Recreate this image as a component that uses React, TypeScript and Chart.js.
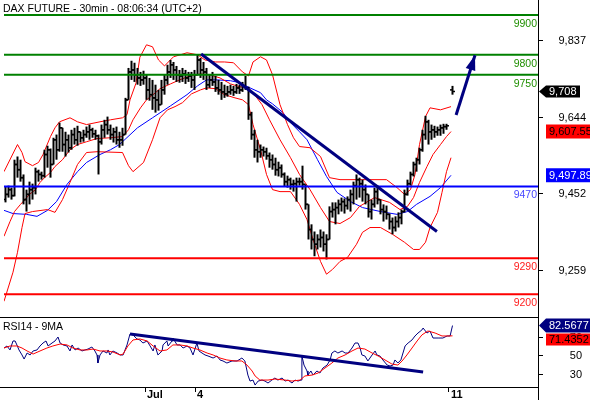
import React, { useEffect, useRef } from 'react';
import { Chart, registerables } from 'chart.js';

Chart.register(...registerables);

const FONT = '"Liberation Sans", Arial, Helvetica, sans-serif';
const NAVY = '#000080';

const chartTitle = 'DAX FUTURE - 30min - 08:06:34 (UTC+2)';
const rsiTitle = 'RSI14 - 9MA';

// 30-min OHLC bars (index 148 = weekend gap)
const opens: (number | null)[] = [
  9437, 9450, 9462, 9447, 9525, 9512, 9492, 9437, 9450, 9462,
  9467, 9507, 9500, 9497, 9550, 9562, 9525, 9587, 9562, 9617,
  9575, 9587, 9567, 9600, 9587, 9607, 9592, 9600, 9607, 9612,
  9602, 9597, 9582, 9612, 9625, 9612, 9600, 9607, 9587, 9587,
  9600, 9687, 9757, 9762, 9750, 9742, 9737, 9742, 9712, 9700,
  9692, 9687, 9675, 9712, 9737, 9757, 9775, 9762, 9750, 9747,
  9752, 9742, 9747, 9737, 9750, 9787, 9762, 9757, 9725, 9737,
  9732, 9717, 9712, 9707, 9702, 9707, 9712, 9707, 9717, 9712,
  9722, 9717, 9650, 9600, 9562, 9557, 9562, 9557, 9547, 9537,
  9525, 9512, 9517, 9500, 9482, 9487, 9475, 9477, 9482, 9482,
  9475, 9425, 9362, 9337, 9325, 9337, 9342, 9325, 9337, 9407,
  9412, 9417, 9425, 9432, 9422, 9437, 9450, 9472, 9487, 9477,
  9462, 9450, 9407, 9425, 9457, 9437, 9412, 9407, 9400, 9382,
  9367, 9382, 9392, 9407, 9450, 9477, 9500, 9525, 9537, 9562,
  9600, 9632, 9607, 9612, 9607, 9612, 9617, 9620, null, 9712,
];
const highs: (number | null)[] = [
  9470, 9472, 9467, 9537, 9545, 9537, 9500, 9462, 9482, 9477,
  9517, 9512, 9507, 9562, 9572, 9565, 9592, 9600, 9630, 9617,
  9607, 9600, 9612, 9617, 9622, 9607, 9612, 9620, 9625, 9617,
  9612, 9600, 9625, 9637, 9645, 9625, 9617, 9620, 9607, 9617,
  9692, 9767, 9785, 9780, 9767, 9757, 9760, 9750, 9742, 9737,
  9725, 9712, 9737, 9750, 9775, 9787, 9782, 9772, 9762, 9767,
  9762, 9757, 9757, 9762, 9800, 9792, 9782, 9767, 9750, 9757,
  9747, 9737, 9732, 9725, 9722, 9725, 9722, 9727, 9725, 9732,
  9747, 9720, 9657, 9612, 9587, 9575, 9570, 9567, 9555, 9550,
  9542, 9532, 9525, 9505, 9497, 9492, 9487, 9492, 9492, 9522,
  9475, 9425, 9375, 9357, 9350, 9362, 9357, 9350, 9420, 9430,
  9430, 9437, 9442, 9440, 9445, 9462, 9482, 9500, 9492, 9487,
  9475, 9450, 9437, 9467, 9472, 9437, 9425, 9422, 9402, 9392,
  9395, 9405, 9412, 9462, 9487, 9507, 9532, 9542, 9567, 9612,
  9647, 9637, 9625, 9622, 9620, 9625, 9627, 9627, null, 9722,
];
const lows: (number | null)[] = [
  9430, 9442, 9437, 9445, 9492, 9482, 9425, 9407, 9425, 9437,
  9450, 9482, 9487, 9492, 9517, 9492, 9525, 9537, 9557, 9557,
  9545, 9555, 9562, 9575, 9572, 9580, 9582, 9592, 9587, 9592,
  9587, 9500, 9575, 9592, 9600, 9587, 9580, 9575, 9567, 9572,
  9600, 9687, 9737, 9732, 9725, 9722, 9725, 9687, 9685, 9662,
  9655, 9660, 9675, 9700, 9725, 9742, 9737, 9732, 9730, 9732,
  9727, 9732, 9717, 9712, 9748, 9742, 9737, 9712, 9717, 9722,
  9707, 9700, 9687, 9692, 9695, 9700, 9697, 9702, 9702, 9707,
  9712, 9637, 9587, 9542, 9530, 9542, 9545, 9537, 9517, 9512,
  9497, 9495, 9492, 9470, 9467, 9462, 9457, 9432, 9472, 9462,
  9412, 9337, 9312, 9295, 9312, 9317, 9307, 9287, 9337, 9392,
  9375, 9400, 9407, 9402, 9412, 9407, 9425, 9437, 9442, 9432,
  9425, 9392, 9387, 9417, 9425, 9400, 9382, 9387, 9362, 9350,
  9357, 9367, 9375, 9405, 9447, 9472, 9495, 9507, 9525, 9557,
  9587, 9575, 9587, 9592, 9597, 9597, 9602, 9612, null, 9700,
];
const closes: (number | null)[] = [
  9450, 9462, 9447, 9525, 9512, 9492, 9437, 9450, 9462, 9467,
  9507, 9500, 9497, 9550, 9562, 9525, 9587, 9562, 9617, 9575,
  9587, 9567, 9600, 9587, 9607, 9592, 9600, 9607, 9612, 9602,
  9597, 9582, 9612, 9625, 9612, 9600, 9607, 9587, 9587, 9600,
  9687, 9757, 9762, 9750, 9742, 9737, 9742, 9712, 9700, 9692,
  9687, 9675, 9712, 9737, 9757, 9775, 9762, 9750, 9747, 9752,
  9742, 9747, 9737, 9750, 9787, 9762, 9757, 9725, 9737, 9732,
  9717, 9712, 9707, 9702, 9707, 9712, 9707, 9717, 9712, 9722,
  9717, 9650, 9600, 9562, 9557, 9562, 9557, 9547, 9537, 9525,
  9512, 9517, 9500, 9482, 9487, 9475, 9477, 9482, 9482, 9475,
  9425, 9362, 9337, 9325, 9337, 9342, 9325, 9337, 9407, 9412,
  9417, 9425, 9432, 9422, 9437, 9450, 9472, 9487, 9477, 9462,
  9450, 9407, 9425, 9457, 9437, 9412, 9407, 9400, 9382, 9367,
  9382, 9392, 9407, 9450, 9477, 9500, 9525, 9537, 9562, 9600,
  9632, 9607, 9612, 9607, 9612, 9617, 9620, 9622, null, 9708,
];

// Bollinger bands and moving average, [bar index, price]
const bbUpper: [number, number][] = [
  [-0.5, 9507], [4, 9575], [5.5, 9555], [6.5, 9532], [9, 9522], [11, 9530], [12.5, 9550], [15, 9595],
  [16.5, 9617], [18, 9632], [21.5, 9642], [24, 9632], [27, 9625], [31.5, 9632], [35, 9637], [39, 9642],
  [40.5, 9650], [41.5, 9687], [43.5, 9729], [44.8, 9794], [47, 9825], [49, 9820], [51, 9787], [53, 9772],
  [56, 9795], [60.5, 9805], [64, 9800], [66.5, 9787], [70, 9782], [73, 9782], [76, 9780], [79, 9757],
  [81, 9747], [82.5, 9782], [85, 9795], [87, 9787], [89, 9750], [91.5, 9675], [94, 9625], [96, 9592],
  [98, 9570], [101.5, 9567], [105, 9545], [108, 9492], [111.5, 9487], [119, 9487], [127, 9487],
  [130.5, 9467], [133, 9450], [135, 9462], [136.5, 9500], [138, 9575], [140, 9645], [141.5, 9667],
  [145, 9662], [148.5, 9670],
];
const bbMiddle: [number, number][] = [
  [-0.5, 9345], [1.5, 9382], [3, 9407], [5, 9425], [6.5, 9437], [8, 9450], [10, 9462], [11.5, 9480],
  [13, 9492], [15, 9505], [16.5, 9520], [19, 9537], [21.5, 9562], [24, 9575], [27, 9582], [30.5, 9590],
  [35, 9592], [39, 9595], [41, 9612], [42.5, 9637], [45, 9667], [47, 9687], [50, 9705], [51.5, 9715],
  [55, 9727], [58, 9737], [61.5, 9747], [65, 9752], [68, 9750], [71.5, 9742], [75, 9727], [78, 9720],
  [81, 9717], [83, 9700], [85.5, 9675], [88, 9637], [91.5, 9587], [95, 9542], [98, 9500], [101.5, 9462],
  [105, 9417], [108, 9382], [111.5, 9377], [115, 9392], [118, 9420], [123, 9442], [128, 9430],
  [131.5, 9412], [134, 9420], [136, 9442], [138, 9480], [140.5, 9520], [142.5, 9550], [145, 9575],
  [147, 9595], [148.5, 9607.55],
];
const bbLower: [number, number][] = [
  [-0.5, 9182], [2.5, 9255], [4, 9305], [5.5, 9367], [6.5, 9402], [9, 9407], [14, 9412], [16.5, 9405],
  [19, 9437], [21.5, 9480], [24, 9525], [27, 9555], [30.5, 9557], [39, 9555], [41, 9522], [42.5, 9507],
  [46, 9530], [49, 9587], [51.5, 9642], [54, 9662], [56.5, 9670], [59, 9680], [62, 9702], [65, 9712],
  [67, 9717], [70, 9715], [73, 9700], [76.5, 9692], [79, 9687], [81, 9675], [82.5, 9625], [85, 9562],
  [87, 9500], [89, 9462], [91.5, 9457], [95, 9457], [98, 9425], [100.5, 9387], [102.5, 9337], [105, 9282],
  [107, 9250], [109, 9262], [111.5, 9282], [114, 9292], [117, 9325], [119, 9355], [121.5, 9367],
  [125, 9367], [129, 9350], [133, 9330], [136, 9312], [138, 9312], [140, 9330], [141.5, 9367],
  [144, 9405], [145.5, 9455], [147, 9507], [148.5, 9542],
];
const movingAvg: [number, number][] = [
  [-0.5, 9410], [2.5, 9402], [7, 9400], [10.5, 9395], [14, 9410], [17, 9432], [20.5, 9475], [24, 9507],
  [27, 9530], [31.5, 9550], [35, 9562], [38, 9575], [44, 9617], [49, 9642], [55, 9672], [60.5, 9700],
  [64, 9722], [67, 9737], [70.5, 9737], [75, 9735], [78, 9730], [81.5, 9717], [85, 9705], [87, 9687],
  [89, 9677], [92.5, 9655], [95, 9630], [98, 9607], [100.5, 9587], [104, 9537], [107, 9495],
  [110.5, 9455], [115, 9432], [119, 9417], [125, 9407], [130.5, 9400], [134, 9407], [137, 9425],
  [141.5, 9445], [145, 9467], [148.5, 9497.89],
];

// RSI14 and its 9MA, [bar index, value]
const rsi14: [number, number][] = [
  [-0.5, 58.3], [0.5, 60.5], [1.5, 56.2], [2.5, 65.9], [3.2, 65.9], [3.8, 61.6], [4.5, 56.2], [5.5, 50.8],
  [6.2, 46.4], [7.2, 52.9], [8.2, 50.8], [9.2, 55.1], [10.5, 56.2], [11.5, 60.5], [12.5, 63.7], [13.5, 65.9],
  [14.2, 60.5], [15.5, 63.7], [16.5, 65.9], [17.5, 70.2], [18.2, 63.7], [19.2, 61.6], [20.5, 60.5],
  [21.5, 55.1], [22.2, 61.6], [23.2, 56.2], [24.2, 58.3], [25.5, 55.1], [26.5, 56.2], [27.5, 57.2],
  [28.8, 59.4], [29.8, 55.1], [30.5, 50.8], [30.8, 42.1], [31.5, 50.8], [32.5, 55.1], [33.8, 52.9],
  [34.2, 56.2], [34.8, 50.8], [35.8, 55.1], [37.2, 52.9], [38.2, 50.8], [39.2, 50.8], [40.5, 61.6],
  [41.5, 73.5], [42.5, 72.4], [43.8, 68.1], [44.8, 67.0], [45.8, 63.7], [47.2, 65.9], [48.2, 60.5],
  [49.2, 55.1], [49.8, 61.6], [50.8, 50.8], [52.2, 55.1], [52.5, 61.6], [53.8, 65.9], [54.2, 60.5],
  [55.5, 65.9], [55.8, 69.1], [57.2, 61.6], [58.2, 61.6], [59.2, 58.3], [60.5, 60.5], [61.5, 58.3],
  [62.5, 50.8], [63.8, 63.7], [64.5, 55.1], [65.5, 52.9], [66.5, 50.8], [67.5, 49.7], [69.2, 47.5],
  [70.5, 49.7], [71.5, 45.4], [72.5, 44.3], [73.8, 42.1], [75.5, 44.3], [77.2, 44.3], [78.8, 47.5],
  [79.8, 44.3], [80.8, 29.1], [81.5, 22.6], [82.5, 23.7], [83.2, 18.3], [84.2, 22.6], [85.5, 23.7],
  [86.5, 22.6], [87.5, 20.5], [88.8, 23.7], [89.8, 25.9], [90.8, 23.7], [92.2, 25.9], [93.2, 22.6],
  [94.2, 23.7], [95.5, 20.5], [96.5, 23.7], [97.5, 22.6], [98.5, 23.7], [98.8, 49.7], [99.5, 39.9],
  [100.5, 33.5], [100.8, 29.1], [101.8, 33.5], [102.5, 29.1], [103.8, 33.5], [104.8, 31.3], [105.8, 36.7],
  [107.2, 39.9], [108.2, 45.4], [108.8, 52.9], [109.8, 55.1], [110.8, 52.9], [112.2, 55.1], [113.2, 52.9],
  [114.2, 52.9], [115.5, 58.3], [116.5, 63.7], [117.5, 63.7], [118.2, 58.3], [118.8, 50.8], [119.8, 49.7],
  [120.8, 44.3], [122.2, 50.8], [123.2, 55.1], [123.8, 50.8], [124.8, 49.7], [125.8, 45.4], [127.2, 39.9],
  [128.2, 38.9], [129.2, 39.9], [129.8, 45.4], [130.8, 42.1], [131.8, 45.4], [133.2, 60.5], [134.2, 63.7],
  [135.5, 67.0], [136.5, 71.3], [137.5, 74.5], [138.8, 77.8], [139.2, 79.9], [140.5, 74.5], [141.5, 76.7],
  [142.5, 69.1], [144.2, 69.1], [145.8, 69.1], [147.2, 71.3], [148.2, 71.3], [149, 82.5677],
];
const rsiMa9: [number, number][] = [
  [-0.5, 58.3], [1.5, 60.5], [3.8, 60.5], [5.5, 58.3], [7.2, 55.1], [9.2, 51.8], [11.5, 55.1], [13.8, 58.3],
  [15.8, 60.5], [18.2, 62.6], [20.5, 61.6], [22.5, 58.3], [24.8, 56.2], [27.2, 56.2], [29.2, 57.2],
  [31.5, 55.1], [33.8, 55.1], [35.8, 54.0], [38.2, 50.8], [39.2, 51.8], [40.8, 60.5], [42.5, 67.0],
  [44.8, 68.1], [47.2, 65.9], [49.2, 60.5], [51.5, 55.1], [53.8, 56.2], [55.8, 61.6], [58.2, 61.6],
  [60.5, 60.5], [62.5, 58.3], [64.8, 56.2], [67.2, 52.9], [69.2, 50.8], [71.5, 47.5], [73.8, 45.4],
  [76.5, 44.3], [78.8, 44.3], [80.5, 39.9], [82.2, 33.5], [83.2, 28.1], [84.8, 23.7], [87.5, 23.7],
  [89.8, 24.8], [93.2, 23.7], [95.5, 22.6], [98.2, 23.7], [99.8, 28.1], [102.2, 29.1], [104.2, 31.3],
  [106.5, 36.7], [108.8, 42.1], [110.8, 47.5], [113.2, 50.8], [115.5, 55.1], [117.5, 58.3], [119.8, 57.2],
  [122.2, 52.9], [124.2, 49.7], [126.5, 45.4], [128.8, 41.0], [130.8, 39.9], [132.2, 44.3], [133.8, 50.8],
  [135.5, 58.3], [137.2, 65.9], [138.8, 72.4], [140.8, 76.7], [143.2, 74.5], [145.5, 71.3], [147.5, 71.3],
  [149, 71.4352],
];

const greenLevels = [9900, 9800, 9750];
const blueLevels = [9470];
const redLevels = [9290, 9200];

const trendMain: [number, number][] = [[65.2, 9802], [143.8, 9357]];
const arrowUp: [number, number][] = [[150.2, 9649], [156.5, 9799]];
const trendRsi: [number, number][] = [[41.5, 73.5], [139.2, 32.4]];

const priceTicks = [9259, 9452, 9644, 9837];
const rsiTicks = [30, 50, 70];
const xTickPos = [46.5, 63.3, 147.8];
const xTickLabels = ['Jul', '4', '11'];

const X_MIN = -0.5, X_MAX = 177.5;
const P_MIN = 9142.7, P_MAX = 9937.3;
const R_MIN = 16.2, R_MAX = 91.8;

function fmt(v: number): string {
  const [i, d] = String(v).split('.');
  return i.replace(/\B(?=(\d{3})+(?!\d))/g, ',') + (d ? '.' + d : '');
}

function lineDs(data: [number, number][], color: string, width: number, order: number) {
  return {
    type: 'line' as const,
    data: data.map(([x, y]) => ({ x, y })),
    borderColor: color,
    borderWidth: width,
    pointRadius: 0,
    tension: 0,
    fill: false,
    order,
  };
}

function valueBox(ctx: CanvasRenderingContext2D, yc: number, text: string, bg: string, fg: string,
  arrow: boolean, right: number, h: number) {
  const left = 546;
  ctx.fillStyle = bg;
  ctx.beginPath();
  if (arrow) {
    ctx.moveTo(539, yc);
    ctx.lineTo(left, yc - h / 2);
  } else {
    ctx.moveTo(left, yc - h / 2);
  }
  ctx.lineTo(right, yc - h / 2);
  ctx.lineTo(right, yc + h / 2);
  ctx.lineTo(left, yc + h / 2);
  ctx.closePath();
  ctx.fill();
  ctx.fillStyle = fg;
  ctx.textAlign = 'left';
  ctx.textBaseline = 'middle';
  ctx.fillText(text, 549, yc + 0.5);
}

export default function App() {
  const mainRef = useRef<HTMLCanvasElement>(null);
  const rsiRef = useRef<HTMLCanvasElement>(null);

  useEffect(() => {
    const idx = closes.map((c, i) => (c === null ? -1 : i)).filter((i) => i >= 0);
    const lastClose = closes[closes.length - 1] as number;
    const midLast = bbMiddle[bbMiddle.length - 1][1];
    const maLast = movingAvg[movingAvg.length - 1][1];
    const rsiLast = rsi14[rsi14.length - 1][1];
    const rsiMaLast = rsiMa9[rsiMa9.length - 1][1];

    const levelDs = (v: number, color: string) => lineDs([[X_MIN, v], [X_MAX, v]], color, 2, 2);

    const mainOverlay = {
      id: 'mainOverlay',
      afterDatasetsDraw(chart: any) {
        const { ctx, scales } = chart;
        const xs = scales.x, ys = scales.y;
        const [a, b] = arrowUp;
        const x0 = xs.getPixelForValue(a[0]), y0 = ys.getPixelForValue(a[1]);
        const x1 = xs.getPixelForValue(b[0]), y1 = ys.getPixelForValue(b[1]);
        const ang = Math.atan2(y1 - y0, x1 - x0);
        const len = 15, half = 5;
        const bx = x1 - len * Math.cos(ang), by = y1 - len * Math.sin(ang);
        ctx.save();
        ctx.fillStyle = NAVY;
        ctx.beginPath();
        ctx.moveTo(x1, y1);
        ctx.lineTo(bx + half * Math.sin(ang), by - half * Math.cos(ang));
        ctx.lineTo(bx - half * Math.sin(ang), by + half * Math.cos(ang));
        ctx.closePath();
        ctx.fill();
        ctx.restore();
      },
      afterDraw(chart: any) {
        const { ctx, chartArea, scales } = chart;
        const ys = scales.y;
        ctx.save();
        ctx.font = `10.5px ${FONT}`;
        ctx.fillStyle = '#000';
        ctx.textAlign = 'left';
        ctx.textBaseline = 'alphabetic';
        ctx.fillText(chartTitle, 3, 12);

        const groups: [number[], string][] = [
          [greenLevels, '#1f8f00'],
          [blueLevels, '#4848ff'],
          [redLevels, '#ff2020'],
        ];
        ctx.textAlign = 'right';
        groups.forEach(([levels, color]) => {
          levels.forEach((lv) => {
            ctx.fillStyle = color;
            ctx.fillText(String(lv), chartArea.right - 1, ys.getPixelForValue(lv) + 12);
          });
        });

        ctx.font = `11px ${FONT}`;
        ctx.fillStyle = '#000';
        ctx.textBaseline = 'middle';
        priceTicks.forEach((v) => ctx.fillText(fmt(v), 586, ys.getPixelForValue(v) + 0.5));

        valueBox(ctx, ys.getPixelForValue(lastClose), fmt(lastClose), '#000', '#fff', true, 580, 12);
        valueBox(ctx, ys.getPixelForValue(midLast), fmt(midLast), '#ff0000', '#000', false, 590, 14);
        valueBox(ctx, ys.getPixelForValue(maLast), fmt(maLast), '#0000ff', '#fff', false, 590, 14);
        ctx.restore();
      },
    };

    const rsiOverlay = {
      id: 'rsiOverlay',
      afterDraw(chart: any) {
        const { ctx, chartArea, scales } = chart;
        const xs = scales.x, ys = scales.y;
        ctx.save();
        ctx.strokeStyle = '#000';
        ctx.lineWidth = 1;
        ctx.beginPath();
        ctx.moveTo(0, chartArea.top + 0.5);
        ctx.lineTo(chartArea.right, chartArea.top + 0.5);
        ctx.moveTo(0, chartArea.bottom + 0.5);
        ctx.lineTo(chartArea.right, chartArea.bottom + 0.5);
        ctx.moveTo(chartArea.right + 0.5, 0);
        ctx.lineTo(chartArea.right + 0.5, chart.height);
        ctx.stroke();

        ctx.font = `10.5px ${FONT}`;
        ctx.fillStyle = '#000';
        ctx.textAlign = 'left';
        ctx.textBaseline = 'alphabetic';
        ctx.fillText(rsiTitle, 3, chartArea.top + 12.5);

        ctx.font = `bold 11px ${FONT}`;
        xTickPos.forEach((p, i) => {
          ctx.fillText(xTickLabels[i], Math.round(xs.getPixelForValue(p)) + 2, chartArea.bottom + 11);
        });

        ctx.font = `11px ${FONT}`;
        ctx.textAlign = 'right';
        ctx.textBaseline = 'middle';
        rsiTicks.forEach((v) => ctx.fillText(String(v), 582, ys.getPixelForValue(v) + 0.5));

        const y1 = ys.getPixelForValue(rsiLast);
        valueBox(ctx, y1, rsiLast.toFixed(4), NAVY, '#fff', true, 590, 14);
        const y2 = Math.max(ys.getPixelForValue(rsiMaLast), y1 + 7 + 1 + 6);
        valueBox(ctx, y2, rsiMaLast.toFixed(4), '#ff0000', '#000', false, 590, 12);
        ctx.restore();
      },
    };

    const main = new Chart(mainRef.current as HTMLCanvasElement, {
      type: 'line',
      data: {
        datasets: [
          lineDs(bbUpper, '#ff0000', 1, 6),
          lineDs(bbMiddle, '#ff0000', 1, 6),
          lineDs(bbLower, '#ff0000', 1, 6),
          lineDs(movingAvg, '#0000ff', 1, 6),
          {
            type: 'bar',
            data: idx.map((i) => ({ x: i, y: [lows[i] as number, highs[i] as number] })),
            backgroundColor: '#000',
            barThickness: 2,
            borderWidth: 0,
            inflateAmount: 0,
            grouped: false,
            order: 4,
          } as any,
          {
            type: 'line',
            data: idx.map((i) => ({ x: i, y: opens[i] as number })),
            showLine: false,
            pointStyle: 'dash',
            pointRadius: 2.5,
            pointRotation: 180,
            pointBorderColor: '#000',
            pointBorderWidth: 1.5,
            order: 4,
          } as any,
          {
            type: 'line',
            data: idx.map((i) => ({ x: i, y: closes[i] as number })),
            showLine: false,
            pointStyle: 'dash',
            pointRadius: 2.5,
            pointRotation: 0,
            pointBorderColor: '#000',
            pointBorderWidth: 1.5,
            order: 4,
          } as any,
          ...greenLevels.map((v) => levelDs(v, '#008000')),
          ...blueLevels.map((v) => levelDs(v, '#0000ff')),
          ...redLevels.map((v) => levelDs(v, '#ff0000')),
          lineDs(trendMain, NAVY, 3, 1),
          lineDs(arrowUp, NAVY, 3, 1),
        ] as any,
      },
      options: {
        responsive: false,
        animation: false,
        events: [],
        layout: { autoPadding: false, padding: { left: 4, right: 4, top: 0, bottom: 0 } },
        plugins: { legend: { display: false }, tooltip: { enabled: false }, title: { display: false } },
        scales: {
          x: { type: 'linear', min: X_MIN, max: X_MAX, display: false, offset: false },
          y: {
            type: 'linear',
            position: 'right',
            min: P_MIN,
            max: P_MAX,
            afterBuildTicks: (s: any) => { s.ticks = priceTicks.map((v) => ({ value: v })); },
            afterFit: (s: any) => { s.width = 48; s.paddingTop = 0; s.paddingBottom = 0; },
            ticks: { display: false },
            grid: { drawOnChartArea: false, drawTicks: true, tickLength: 5, color: '#000' },
            border: { display: true, color: '#000', width: 1 },
          },
        },
      } as any,
      plugins: [mainOverlay],
    });

    const rsiChart = new Chart(rsiRef.current as HTMLCanvasElement, {
      type: 'line',
      data: {
        datasets: [
          lineDs(rsi14, NAVY, 1, 3),
          lineDs(rsiMa9, '#ff0000', 1, 2),
          lineDs(trendRsi, NAVY, 3, 1),
        ] as any,
      },
      options: {
        responsive: false,
        animation: false,
        events: [],
        layout: { autoPadding: false, padding: { left: 4, right: 4, top: 5, bottom: 0 } },
        plugins: { legend: { display: false }, tooltip: { enabled: false }, title: { display: false } },
        scales: {
          x: {
            type: 'linear',
            position: 'bottom',
            min: X_MIN,
            max: X_MAX,
            offset: false,
            afterBuildTicks: (s: any) => { s.ticks = xTickPos.map((v) => ({ value: v })); },
            afterFit: (s: any) => { s.height = 13; s.paddingLeft = 0; s.paddingRight = 0; },
            ticks: { display: false },
            grid: { drawOnChartArea: false, drawTicks: true, tickLength: 5, color: '#000' },
            border: { display: false },
          },
          y: {
            type: 'linear',
            position: 'right',
            min: R_MIN,
            max: R_MAX,
            afterBuildTicks: (s: any) => { s.ticks = rsiTicks.map((v) => ({ value: v })); },
            afterFit: (s: any) => { s.width = 48; s.paddingTop = 0; s.paddingBottom = 0; },
            ticks: { display: false },
            grid: { drawOnChartArea: false, drawTicks: true, tickLength: 5, color: '#000' },
            border: { display: true, color: '#000', width: 1 },
          },
        },
      } as any,
      plugins: [rsiOverlay],
    });

    return () => {
      main.destroy();
      rsiChart.destroy();
    };
  }, []);

  return (
    <div style={{ position: 'fixed', left: 0, top: 0, width: 590, height: 400, background: '#fff', overflow: 'hidden' }}>
      <canvas ref={mainRef} width={590} height={317} style={{ position: 'absolute', left: 0, top: 0 }} />
      <canvas ref={rsiRef} width={590} height={88} style={{ position: 'absolute', left: 0, top: 312 }} />
    </div>
  );
}
